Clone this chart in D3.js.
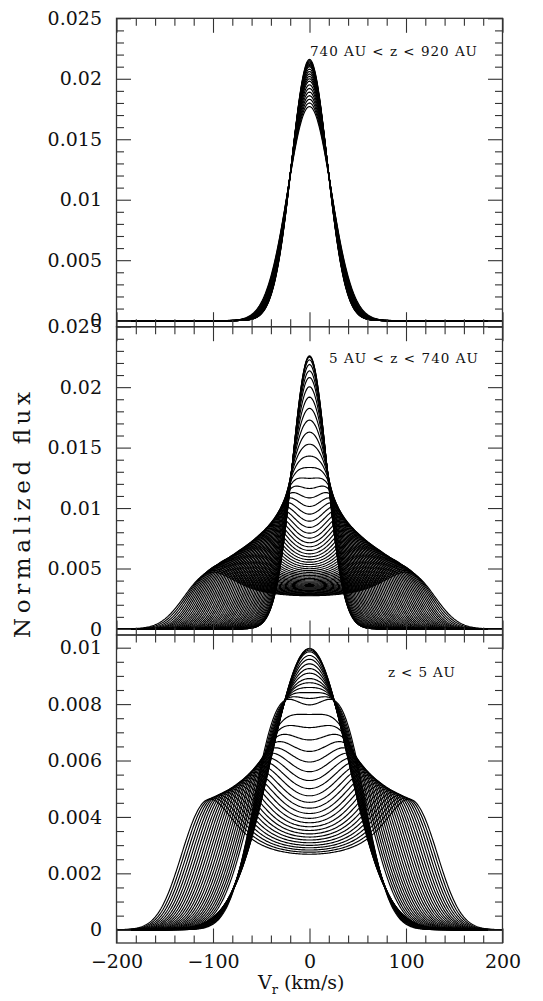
<!DOCTYPE html>
<html>
<head>
<meta charset="utf-8">
<script src="https://cdn.jsdelivr.net/npm/d3@7"></script>
<style>
  body { margin: 0; background: #fff; }
  svg { display: block; }
</style>
</head>
<body>
<script>
// tick values / labels
const velMajor = [-200, -100, 0, 100, 200];
const fluxMajorTall = [0, 0.005, 0.01, 0.015, 0.02, 0.025];
const fluxMajorLow = [0, 0.002, 0.004, 0.006, 0.008, 0.01];
const panelLabels = ["740 AU < z < 920 AU", "5 AU < z < 740 AU", "z < 5 AU"];

// top panel: peak heights of the gaussian profiles
const topPeaks = [0.0177, 0.0180, 0.0183, 0.0186, 0.0189, 0.0192, 0.0195, 0.0198, 0.0200, 0.0202,
                  0.0204, 0.0206, 0.0208, 0.0210, 0.0211, 0.0212, 0.0213, 0.0214, 0.0215, 0.0216];

// middle panel: ring speed (km/s) and broadening (km/s) of each profile
const midRingV = [0, 2, 4, 6, 8, 10, 12, 14, 16, 18, 20, 22, 24, 26, 28, 30, 32, 34, 36, 38,
                  40, 42, 44, 46, 48, 50, 52, 54, 56, 58, 60, 62, 64, 66, 68, 70, 72, 74, 76, 78,
                  80, 82, 84, 86, 88, 90, 92, 94, 96, 98, 100, 102, 104, 106, 108, 110, 112, 114, 116, 118];
const midSigma = [17.7, 17.6, 17.5, 17.4, 17.3, 17.2, 17.0, 16.9, 16.8, 16.7, 16.6, 16.5, 16.4, 16.3, 16.2, 16.2, 16.1, 16.0, 15.9, 15.9,
                  15.8, 15.8, 15.7, 15.7, 15.6, 15.6, 15.6, 15.5, 15.5, 15.5, 15.5, 15.5, 15.5, 15.6, 15.6, 15.7, 15.7, 15.8, 15.9, 15.9,
                  16.0, 16.1, 16.3, 16.4, 16.6, 16.7, 16.9, 17.0, 17.2, 17.3, 17.5, 17.8, 18.1, 18.4, 18.7, 19.0, 19.6, 20.3, 21.1, 22.0];

// bottom panel
const lowRingV = [0, 15, 22, 27, 31, 34, 36.5, 38.5, 40, 41.5, 42.5, 43.5, 44.5, 45.5, 46.5,
                  49, 52, 55, 58, 61, 64, 67, 70, 73, 76, 79, 82, 85, 88, 91, 94, 97, 100, 103, 106, 109, 112, 115, 118, 121];
const lowSigma = [40.0, 38.6, 36.9, 35.1, 33.5, 32.0, 30.6, 29.3, 28.3, 27.2, 26.4, 25.6, 24.7, 23.8, 22.8,
                  27.0, 26.8, 26.6, 26.4, 26.2, 26.0, 25.75, 25.5, 25.3, 25.1, 24.9, 24.7, 24.5, 24.3, 24.1, 23.9, 23.7, 23.5,
                  23.25, 23.0, 22.8, 22.6, 22.4, 22.2, 22.0];

const width = 543, height = 1001;
const vGrid = d3.range(-200, 200.01, 1);

// rotating ring of speed V smeared by a gaussian of width s, unit area
function profile(V, s) {
  const n = 240, norm = 1 / (s * Math.sqrt(2 * Math.PI));
  return vGrid.map(v => {
    let sum = 0;
    for (let k = 0; k < n; k++) {
      const d = v - V * Math.cos(Math.PI * (k + 0.5) / n);
      sum += Math.exp(-d * d / (2 * s * s));
    }
    return [v, sum / n * norm];
  });
}

const panels = [
  { top: 18.3, bottom: 326.7, domain: [-0.0005, 0.025], major: fluxMajorTall, minorStep: 0.001,
    label: panelLabels[0], lx: 310, ly: 56, lw: 167,
    curves: topPeaks.map(pk => profile(0, 1 / (pk * Math.sqrt(2 * Math.PI)))) },
  { top: 326.7, bottom: 635, domain: [-0.0005, 0.025], major: fluxMajorTall, minorStep: 0.001,
    label: panelLabels[1], lx: 329, ly: 363, lw: 149,
    curves: midRingV.map((V, i) => profile(V, midSigma[i])) },
  { top: 635, bottom: 943, domain: [-0.00047, 0.01045], major: fluxMajorLow, minorStep: 0.0005,
    label: panelLabels[2], lx: 388, ly: 677, lw: 67,
    curves: lowRingV.map((V, i) => profile(V, lowSigma[i])) }
];

const x = d3.scaleLinear().domain([-200, 200]).range([116.5, 502.5]);
const velMinor = d3.range(-200, 201, 20).filter(v => v % 100 !== 0);

const svg = d3.select("body").append("svg")
  .attr("width", width)
  .attr("height", height)
  .style("font-family", "'DejaVu Serif', serif");

function styleAxis(g) {
  g.select(".domain").remove();
  g.selectAll(".tick line").attr("stroke", "#333").attr("stroke-width", 1.1);
  g.attr("font-family", "'DejaVu Serif', serif").attr("font-size", 19);
  g.selectAll("text").attr("fill", "#111");
}

panels.forEach((p, pi) => {
  const y = d3.scaleLinear().domain(p.domain).range([p.bottom, p.top]);
  const yMinor = d3.range(0, p.domain[1] + 1e-9, p.minorStep)
    .filter(v => !p.major.some(m => Math.abs(m - v) < 1e-9));

  const line = d3.line().x(d => x(d[0])).y(d => y(d[1]));

  svg.append("g")
    .selectAll("path")
    .data(p.curves)
    .enter()
    .append("path")
    .attr("d", line)
    .attr("fill", "none")
    .attr("stroke", "#000")
    .attr("stroke-width", 1.15);

  // left axis with labels
  svg.append("g")
    .attr("transform", "translate(" + x(-200) + ",0)")
    .call(d3.axisLeft(y).tickValues(p.major).tickSize(-14.5).tickPadding(14.5).tickFormat(d3.format("~g")))
    .call(styleAxis);
  svg.append("g")
    .attr("transform", "translate(" + x(-200) + ",0)")
    .call(d3.axisLeft(y).tickValues(yMinor).tickSize(-7.5).tickFormat(""))
    .call(styleAxis);
  // right axis
  svg.append("g")
    .attr("transform", "translate(" + x(200) + ",0)")
    .call(d3.axisRight(y).tickValues(p.major).tickSize(-14.5).tickFormat(""))
    .call(styleAxis);
  svg.append("g")
    .attr("transform", "translate(" + x(200) + ",0)")
    .call(d3.axisRight(y).tickValues(yMinor).tickSize(-7.5).tickFormat(""))
    .call(styleAxis);
  // top and bottom
  svg.append("g")
    .attr("transform", "translate(0," + p.top + ")")
    .call(d3.axisTop(x).tickValues(velMajor).tickSize(-14.5).tickFormat(""))
    .call(styleAxis);
  svg.append("g")
    .attr("transform", "translate(0," + p.top + ")")
    .call(d3.axisTop(x).tickValues(velMinor).tickSize(-7.5).tickFormat(""))
    .call(styleAxis);
  svg.append("g")
    .attr("transform", "translate(0," + p.bottom + ")")
    .call(d3.axisBottom(x).tickValues(velMajor).tickSize(-14.5).tickPadding(12)
      .tickFormat(pi === 2 ? d3.format("d") : ""))
    .call(styleAxis);
  svg.append("g")
    .attr("transform", "translate(0," + p.bottom + ")")
    .call(d3.axisBottom(x).tickValues(velMinor).tickSize(-7.5).tickFormat(""))
    .call(styleAxis);

  // frame
  svg.append("rect")
    .attr("x", x(-200)).attr("y", p.top)
    .attr("width", x(200) - x(-200)).attr("height", p.bottom - p.top)
    .attr("fill", "none").attr("stroke", "#333").attr("stroke-width", 1.3);

  svg.append("text")
    .attr("x", p.lx).attr("y", p.ly)
    .attr("font-size", 13.5)
    .attr("textLength", p.lw).attr("lengthAdjust", "spacing")
    .attr("fill", "#111")
    .text(p.label);
});

// axis titles
svg.append("text")
  .attr("transform", "translate(22,515) rotate(-90)")
  .attr("text-anchor", "middle")
  .attr("dominant-baseline", "central")
  .attr("font-size", 23)
  .attr("textLength", 246).attr("lengthAdjust", "spacing")
  .attr("fill", "#111")
  .text("Normalized flux");

const xt = svg.append("text")
  .attr("x", 258).attr("y", 989)
  .attr("font-size", 19)
  .attr("fill", "#111");
xt.append("tspan").text("V");
xt.append("tspan").attr("font-size", 13).attr("dy", 5).text("r");
xt.append("tspan").attr("dy", -5).attr("dx", 6).text("(km/s)");
</script>
</body>
</html>
